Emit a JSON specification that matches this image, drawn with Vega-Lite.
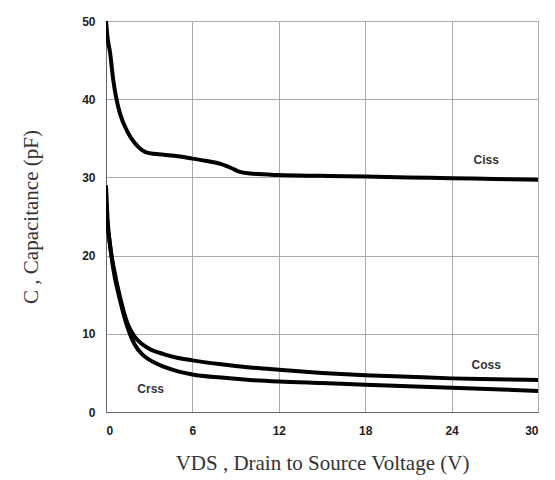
{
  "$schema": "https://vega.github.io/schema/vega-lite/v6.json",
  "autosize": "none",
  "padding": {"left": 106, "top": 21, "right": 17, "bottom": 68},
  "width": 432,
  "height": 391,
  "background": "white",
  "config": {
    "view": {"stroke": "#888", "strokeWidth": 1},
    "axis": {
      "grid": true,
      "gridColor": "#aaa",
      "gridWidth": 1,
      "domain": true,
      "domainColor": "#666",
      "ticks": false,
      "labelFont": "Liberation Sans",
      "labelFontSize": 12,
      "labelFontWeight": "bold",
      "labelColor": "#222",
      "titleFont": "Liberation Serif",
      "titleFontSize": 21,
      "titleFontWeight": "normal",
      "titleColor": "#333"
    }
  },
  "datasets": {
    "curves": [
      {"series": "Ciss", "v": 0, "c": 50},
      {"series": "Ciss", "v": 0.1, "c": 48},
      {"series": "Ciss", "v": 0.28, "c": 46},
      {"series": "Ciss", "v": 0.5, "c": 42.5},
      {"series": "Ciss", "v": 0.75, "c": 39.8},
      {"series": "Ciss", "v": 1, "c": 38},
      {"series": "Ciss", "v": 1.5, "c": 35.8},
      {"series": "Ciss", "v": 2, "c": 34.4},
      {"series": "Ciss", "v": 2.5, "c": 33.5},
      {"series": "Ciss", "v": 3, "c": 33.1},
      {"series": "Ciss", "v": 4, "c": 32.9},
      {"series": "Ciss", "v": 5, "c": 32.7},
      {"series": "Ciss", "v": 6, "c": 32.4},
      {"series": "Ciss", "v": 7, "c": 32.1},
      {"series": "Ciss", "v": 8, "c": 31.7},
      {"series": "Ciss", "v": 8.7, "c": 31.2},
      {"series": "Ciss", "v": 9.3, "c": 30.7},
      {"series": "Ciss", "v": 10, "c": 30.5},
      {"series": "Ciss", "v": 12, "c": 30.3},
      {"series": "Ciss", "v": 15, "c": 30.2},
      {"series": "Ciss", "v": 18, "c": 30.1},
      {"series": "Ciss", "v": 21, "c": 30.0},
      {"series": "Ciss", "v": 24, "c": 29.9},
      {"series": "Ciss", "v": 27, "c": 29.8},
      {"series": "Ciss", "v": 30, "c": 29.7},
      {"series": "Coss", "v": 0, "c": 29},
      {"series": "Coss", "v": 0.1, "c": 25},
      {"series": "Coss", "v": 0.3, "c": 21},
      {"series": "Coss", "v": 0.5, "c": 18.8},
      {"series": "Coss", "v": 1, "c": 14.5},
      {"series": "Coss", "v": 1.5, "c": 11.3},
      {"series": "Coss", "v": 2, "c": 9.6},
      {"series": "Coss", "v": 2.5, "c": 8.7},
      {"series": "Coss", "v": 3, "c": 8.1},
      {"series": "Coss", "v": 4, "c": 7.4},
      {"series": "Coss", "v": 5, "c": 6.9},
      {"series": "Coss", "v": 6, "c": 6.6},
      {"series": "Coss", "v": 8, "c": 6.1},
      {"series": "Coss", "v": 10, "c": 5.7},
      {"series": "Coss", "v": 12, "c": 5.4},
      {"series": "Coss", "v": 15, "c": 5.0},
      {"series": "Coss", "v": 18, "c": 4.7},
      {"series": "Coss", "v": 21, "c": 4.5},
      {"series": "Coss", "v": 24, "c": 4.3},
      {"series": "Coss", "v": 27, "c": 4.2},
      {"series": "Coss", "v": 30, "c": 4.1},
      {"series": "Crss", "v": 0, "c": 25},
      {"series": "Crss", "v": 0.2, "c": 22.5},
      {"series": "Crss", "v": 0.5, "c": 18.4},
      {"series": "Crss", "v": 1, "c": 14.1},
      {"series": "Crss", "v": 1.5, "c": 10.8},
      {"series": "Crss", "v": 2, "c": 8.6},
      {"series": "Crss", "v": 2.5, "c": 7.4},
      {"series": "Crss", "v": 3, "c": 6.7},
      {"series": "Crss", "v": 4, "c": 5.8},
      {"series": "Crss", "v": 5, "c": 5.2},
      {"series": "Crss", "v": 6, "c": 4.8},
      {"series": "Crss", "v": 8, "c": 4.4},
      {"series": "Crss", "v": 10, "c": 4.1},
      {"series": "Crss", "v": 12, "c": 3.9},
      {"series": "Crss", "v": 15, "c": 3.7},
      {"series": "Crss", "v": 18, "c": 3.5},
      {"series": "Crss", "v": 21, "c": 3.3},
      {"series": "Crss", "v": 24, "c": 3.1},
      {"series": "Crss", "v": 27, "c": 2.9},
      {"series": "Crss", "v": 30, "c": 2.7}
    ],
    "labels": [
      {"name": "Ciss", "v": 26.4, "c": 32.2},
      {"name": "Coss", "v": 26.4, "c": 6.0},
      {"name": "Crss", "v": 3.1, "c": 3.0}
    ]
  },
  "layer": [
    {
      "data": {"name": "curves"},
      "mark": {"type": "line", "color": "black", "strokeWidth": 4, "interpolate": "monotone", "clip": true},
      "encoding": {
        "x": {
          "field": "v", "type": "quantitative",
          "scale": {"domain": [0, 30], "nice": false, "zero": false},
          "axis": {"values": [0, 6, 12, 18, 24, 30], "title": "VDS , Drain to Source Voltage (V)", "labelPadding": 13, "titlePadding": 16}
        },
        "y": {
          "field": "c", "type": "quantitative",
          "scale": {"domain": [0, 50], "nice": false},
          "axis": {"values": [0, 10, 20, 30, 40, 50], "title": "C , Capacitance (pF)", "labelPadding": 11, "titlePadding": 40}
        },
        "detail": {"field": "series"}
      }
    },
    {
      "data": {"name": "labels"},
      "mark": {"type": "text", "font": "Liberation Sans", "fontSize": 12, "fontWeight": "bold", "color": "#333", "align": "center", "baseline": "middle"},
      "encoding": {
        "x": {"field": "v", "type": "quantitative"},
        "y": {"field": "c", "type": "quantitative"},
        "text": {"field": "name"}
      }
    }
  ]
}
